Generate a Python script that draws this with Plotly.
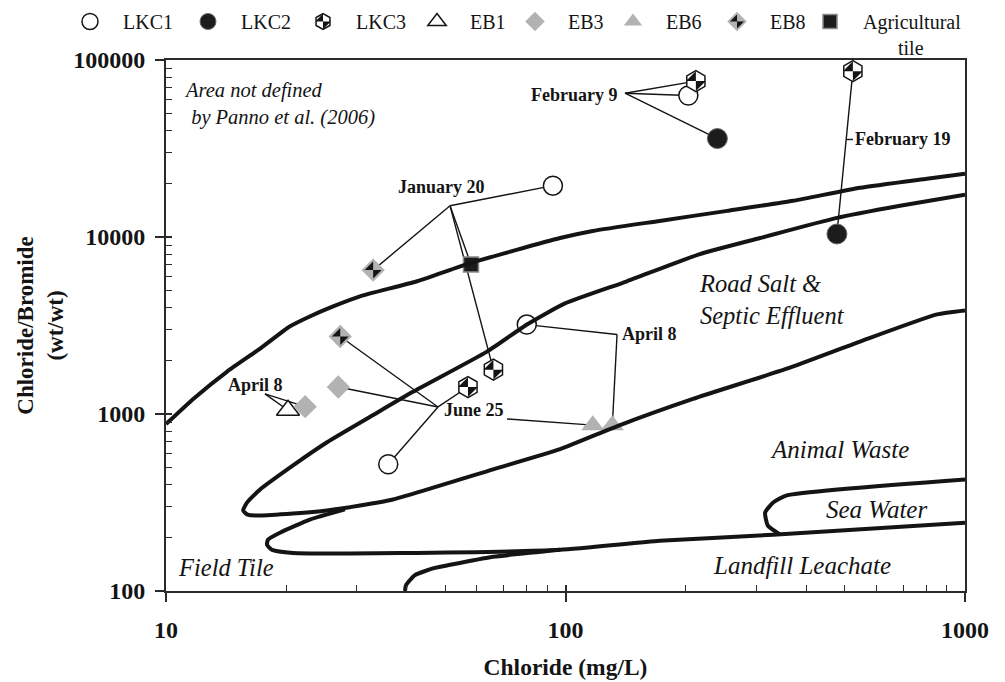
import numpy as np
import plotly.graph_objects as go

# ---- sample results: chloride (mg/L) and chloride/bromide mass ratio ----
LKC1_CL = [203, 93, 80, 36]
LKC1_RATIO = [63000, 19500, 3200, 520]
LKC2_CL = [240, 478]
LKC2_RATIO = [36000, 10400]
LKC3_CL = [212, 524, 66, 57]
LKC3_RATIO = [76000, 86500, 1780, 1420]
EB1_CL = [20.2]
EB1_RATIO = [1050]
EB3_CL = [22.3, 27]
EB3_RATIO = [1100, 1420]
EB6_CL = [117, 131]
EB6_RATIO = [865, 865]
EB8_CL = [33, 27.3]
EB8_RATIO = [6500, 2740]
TILE_CL = [58]
TILE_RATIO = [7000]

# ---- source-field boundaries (Panno et al., 2006) ----
UPPER_CL = [10, 11.7, 14.2, 17.2, 20.4, 22.9, 26.2, 30.6, 42.5, 57.7, 96.9, 117,
            172, 254, 371, 546, 803, 1000]
UPPER_RATIO = [877, 1217, 1732, 2341, 3121, 3557, 4055, 4622, 5623, 7117, 9870,
               10820, 12330, 14050, 16015, 18980, 21360, 22800]

ROADSALT_CL = [1000, 688, 478, 307, 217, 142.5, 99.7, 80.1, 63.6, 41.5, 33.0, 25.3,
               20.8, 17.2, 15.95, 15.6, 16.0, 17.2, 20.8, 25.3, 30.6, 37.0, 65.9,
               96.9, 136.9, 208.5, 358, 546, 851, 1000]
ROADSALT_RATIO = [17320, 15000, 12820, 9870, 8006, 5623, 4217, 3204, 2251, 1334, 987,
                  693, 513, 375, 316, 285, 270, 267, 274, 285, 304, 329, 487, 633,
                  866, 1217, 1802, 2566, 3652, 3847]

FIELDTILE_CL = [28.05, 22.9, 19.3, 18.0, 17.9, 18.4, 20.8, 38.5, 96.9, 172, 331, 1000]
FIELDTILE_RATIO = [289, 253, 213.5, 195, 182.5, 171, 164, 164, 171, 192, 208, 243]

SEAWATER_CL = [1000, 358, 331, 316, 321, 344]
SEAWATER_RATIO = [427, 347, 316, 277.5, 234, 209]

LANDFILL_CL = [39.65, 39.9, 42.0, 47.1, 54.4, 65.9, 96.9]
LANDFILL_RATIO = [100, 108, 123, 135, 144, 156, 171]

# ---- axis ticks ----
X_TICKS = [10, 100, 1000]
X_TICK_TEXT = ["10", "100", "1000"]
Y_TICKS = [100, 1000, 10000, 100000]
Y_TICK_TEXT = ["100", "1000", "10000", "100000"]

INK = "#141414"
AXIS_INK = "#2a2a2a"
GREY = "#b2b2b2"
SERIF = "Liberation Serif"

series = {
    "LKC1": (LKC1_CL, LKC1_RATIO),
    "LKC2": (LKC2_CL, LKC2_RATIO),
    "LKC3": (LKC3_CL, LKC3_RATIO),
    "EB1": (EB1_CL, EB1_RATIO),
    "EB3": (EB3_CL, EB3_RATIO),
    "EB6": (EB6_CL, EB6_RATIO),
    "EB8": (EB8_CL, EB8_RATIO),
    "TILE": (TILE_CL, TILE_RATIO),
}


def pt(name, i):
    xs, ys = series[name]
    return xs[i], ys[i]


# ---- sampling-date callouts: text, anchor, leader apex, sampled points ----
CALLOUTS = [
    dict(text="February 9", pos=(136.1, 63240), xanchor="right",
         apex=(140.9, 64940), targets=[("LKC3", 0), ("LKC1", 0), ("LKC2", 0)]),
    dict(text="January 20", pos=(48.8, 19230), xanchor="center",
         apex=(51.4, 15004), targets=[("LKC1", 1), ("EB8", 0), ("TILE", 0), ("LKC3", 2)]),
    dict(text="June 25", pos=(59.0, 1054), xanchor="center",
         apex=(47.96, 1096), targets=[("EB8", 1), ("EB3", 1), ("LKC3", 3), ("LKC1", 3)]),
    dict(text="April 8", pos=(16.71, 1461), xanchor="center",
         apex=(17.69, 1299), targets=[("EB1", 0), ("EB3", 0)]),
    dict(text="April 8", pos=(162.7, 2848), xanchor="center",
         apex=(134.6, 2811), targets=[("LKC1", 2), ("EB6", 1)]),
]
JUNE25_TAIL = (71.4, 937)          # right-hand leader of the June 25 label
FEB19_POS = (524.3, 35560)         # February 19 label anchor

lead_x, lead_y = [], []


def add_seg(p, q):
    lead_x.extend([p[0], q[0], None])
    lead_y.extend([p[1], q[1], None])


for c in CALLOUTS:
    for name, i in c["targets"]:
        add_seg(c["apex"], pt(name, i))
add_seg(JUNE25_TAIL, pt("EB6", 0))

# February 19 joins the two LKC wells sampled that day, with a tick to the label
p1, p2 = pt("LKC3", 1), pt("LKC2", 1)
add_seg(p1, p2)
t = (np.log10(p1[1]) - np.log10(FEB19_POS[1])) / (np.log10(p1[1]) - np.log10(p2[1]))
x_on_line = 10 ** (np.log10(p1[0]) + t * (np.log10(p2[0]) - np.log10(p1[0])))
add_seg((x_on_line, FEB19_POS[1]), FEB19_POS)

fig = go.Figure()

fig.add_trace(go.Scatter(x=lead_x, y=lead_y, mode="lines",
                         line=dict(color=INK, width=1.4),
                         showlegend=False, hoverinfo="skip"))

# ---- sample markers ----
marker_styles = {
    "LKC1": [dict(symbol="circle", size=19, color="white", line=dict(color=INK, width=1.5))],
    "LKC2": [dict(symbol="circle", size=20, color="#1c1c1c", line=dict(color="#6a6a6a", width=1))],
    "LKC3": [dict(symbol="hexagon", size=21, color="white", line=dict(color=INK, width=1.5)),
             dict(symbol="bowtie", size=14, angle=45, color=INK, line=dict(width=0))],
    "EB1": [dict(symbol="triangle-up", size=20, color="white", line=dict(color=INK, width=1.5))],
    "EB3": [dict(symbol="diamond", size=18, color=GREY, line=dict(width=0))],
    "EB6": [dict(symbol="triangle-up", size=20, color=GREY, line=dict(width=0))],
    "EB8": [dict(symbol="diamond", size=18, color=GREY, line=dict(width=0)),
            dict(symbol="bowtie", size=12, angle=45, color=INK, line=dict(width=0))],
    "TILE": [dict(symbol="square", size=15, color="#1c1c1c", line=dict(color="#8a8a8a", width=1.5))],
}
for name, layers in marker_styles.items():
    xs, ys = series[name]
    for m in layers:
        fig.add_trace(go.Scatter(x=xs, y=ys, mode="markers", marker=m,
                                 showlegend=False, name=name))

# ---- boundary curves ----
for cx, cy in [(UPPER_CL, UPPER_RATIO), (ROADSALT_CL, ROADSALT_RATIO),
               (FIELDTILE_CL, FIELDTILE_RATIO), (SEAWATER_CL, SEAWATER_RATIO),
               (LANDFILL_CL, LANDFILL_RATIO)]:
    fig.add_trace(go.Scatter(x=cx, y=cy, mode="lines",
                             line=dict(color=INK, width=4, shape="spline", smoothing=0.5),
                             showlegend=False, hoverinfo="skip"))

# empty trace that brings up the overlay axes carrying the inner half of the major ticks
fig.add_trace(go.Scatter(x=[None], y=[None], xaxis="x2", yaxis="y2",
                         showlegend=False, hoverinfo="skip"))

# ---- key (one legend per entry so each sits at its own spot on the top row) ----
key_entries = [
    ("LKC1", [dict(symbol="circle", size=16, color="white", line=dict(color=INK, width=1.5))], 90),
    ("LKC2", [dict(symbol="circle", size=16, color="#1c1c1c", line=dict(color="#6a6a6a", width=1))], 208),
    ("LKC3", [dict(symbol="hexagon", size=16, color="white", line=dict(color=INK, width=1.5)),
              dict(symbol="bowtie", size=11, angle=45, color=INK, line=dict(width=0))], 323),
    ("EB1", [dict(symbol="triangle-up", size=16, color="white", line=dict(color=INK, width=1.5))], 437),
    ("EB3", [dict(symbol="diamond", size=15, color=GREY, line=dict(width=0))], 535),
    ("EB6", [dict(symbol="triangle-up", size=16, color=GREY, line=dict(width=0))], 633),
    ("EB8", [dict(symbol="diamond", size=15, color=GREY, line=dict(width=0)),
             dict(symbol="bowtie", size=10, angle=45, color=INK, line=dict(width=0))], 737),
    ("Agricultural<br>" + "\u00a0" * 7 + "tile",
     [dict(symbol="square", size=14, color="#1c1c1c", line=dict(color="#8a8a8a", width=1.5))], 830),
]
legend_layout = {}
k = 1
for label, layers, cx_px in key_entries:
    for j, m in enumerate(layers):
        lid = "legend" if k == 1 else f"legend{k}"
        fig.add_trace(go.Scatter(x=[None], y=[None], mode="markers", marker=m,
                                 name=label if j == 0 else "", legend=lid,
                                 showlegend=True, hoverinfo="skip"))
        legend_layout[lid] = dict(
            x=(cx_px - 33) / 1005, xref="container", xanchor="left",
            y=1 - 2 / 682, yref="container", yanchor="top",
            orientation="h", valign="top", bgcolor="rgba(0,0,0,0)", borderwidth=0,
            itemwidth=56,
            font=dict(family=SERIF, size=20, color=INK),
        )
        k += 1

# ---- text ----
annotations = []
for c in CALLOUTS:
    annotations.append(dict(x=np.log10(c["pos"][0]), y=np.log10(c["pos"][1]),
                            text=f"<b>{c['text']}</b>", xanchor=c["xanchor"],
                            yanchor="middle", showarrow=False,
                            font=dict(family=SERIF, size=18, color=INK)))
annotations.append(dict(x=np.log10(FEB19_POS[0]), y=np.log10(FEB19_POS[1]),
                        text="<b>February 19</b>", xanchor="left", yanchor="middle",
                        showarrow=False, font=dict(family=SERIF, size=18, color=INK)))

region_labels = [
    ("Area not defined<br>\u00a0by Panno et al. (2006)", (10.96, 56590), "left", 20.5),
    ("Road Salt &amp;<br>Septic Effluent", (213.4, 4443), "left", 24.5),
    ("Animal Waste", (486.5, 632.6), "center", 25),
    ("Sea Water", (598.7, 288.6), "center", 25),
    ("Landfill Leachate", (390.8, 138.7), "center", 25),
    ("Field Tile", (14.13, 135.1), "center", 24.5),
]
for text, (x, y), anchor, size in region_labels:
    annotations.append(dict(x=np.log10(x), y=np.log10(y), text=f"<i>{text}</i>",
                            xanchor=anchor, yanchor="middle", align="left",
                            showarrow=False,
                            font=dict(family=SERIF, size=size, color=INK)))


def minor_ticks(lo, hi):
    return [m * 10 ** e for e in range(lo, hi) for m in range(2, 10)]


axis_common = dict(
    type="log", showline=True, linecolor=AXIS_INK, linewidth=2, mirror=True,
    ticks="outside", ticklen=9, tickwidth=1.5, tickcolor=AXIS_INK,
    showgrid=False, zeroline=False,
    tickfont=dict(family=SERIF, size=24, color=INK, weight="bold"),
)
inner_ticks = dict(type="log", ticks="inside", ticklen=6, tickwidth=1.5,
                   tickcolor=AXIS_INK, showticklabels=False, showline=False,
                   showgrid=False, zeroline=False, tickmode="array")

fig.update_layout(
    width=1005, height=682,
    margin=dict(l=166, r=40, t=60, b=91, autoexpand=False),
    paper_bgcolor="white", plot_bgcolor="white",
    xaxis=dict(axis_common, range=[1, 3], tickmode="array", tickvals=X_TICKS,
               ticktext=X_TICK_TEXT, ticklabelstandoff=7,
               minor=dict(ticks="inside", ticklen=6, tickwidth=1, tickcolor=AXIS_INK,
                          tickvals=minor_ticks(1, 3)),
               title=dict(text="<b>Chloride (mg/L)</b>", standoff=17,
                          font=dict(family=SERIF, size=23.5, color=INK))),
    yaxis=dict(axis_common, range=[2, 5], tickmode="array", tickvals=Y_TICKS,
               ticktext=Y_TICK_TEXT, ticklabelstandoff=5,
               minor=dict(ticks="inside", ticklen=6, tickwidth=1, tickcolor=AXIS_INK,
                          tickvals=minor_ticks(2, 5)),
               title=dict(text="<b>Chloride/Bromide<br>(wt/wt)</b>", standoff=3,
                          font=dict(family=SERIF, size=23, color=INK))),
    xaxis2=dict(inner_ticks, overlaying="x", anchor="y", side="bottom",
                range=[1, 3], tickvals=X_TICKS),
    yaxis2=dict(inner_ticks, overlaying="y", anchor="x", side="left",
                range=[2, 5], tickvals=Y_TICKS),
    annotations=annotations,
    showlegend=True,
    **legend_layout,
)

fig.write_html("out.html")
